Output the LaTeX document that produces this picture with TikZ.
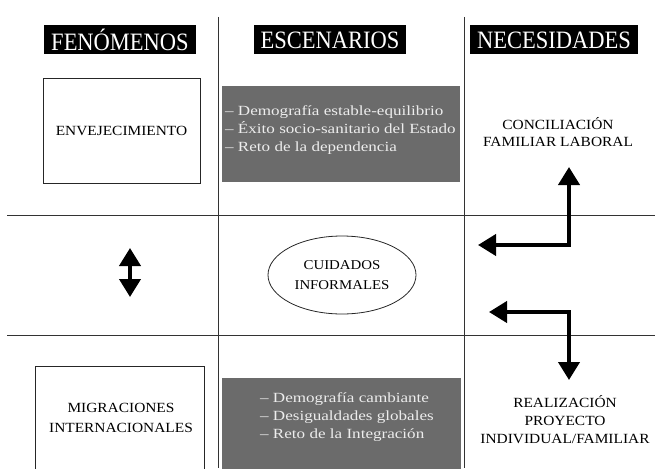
\documentclass[tikz,border=0pt]{standalone}
\usepackage{fontspec}
\setmainfont{Liberation Serif}
\newfontfamily\capsf{Liberation Serif}[FakeStretch=1.1]
\newfontfamily\listf{Liberation Serif}[FakeStretch=1.22]
\newfontfamily\headf{Liberation Serif}[FakeStretch=0.9]
\usetikzlibrary{arrows.meta,shapes.geometric}
\begin{document}
\begin{tikzpicture}[x=1pt,y=-1pt,
  grid/.style={draw=black!80,line width=0.9pt},
  head/.style={fill=black,text=white,font=\headf\fontsize{25}{25}\selectfont,inner xsep=7pt,inner ysep=2pt,minimum height=29pt},
  capstext/.style={font=\capsf\fontsize{14}{18}\selectfont,align=center},
  listtext/.style={font=\listf\fontsize{14}{18}\selectfont,align=left,text=white!93!black,inner sep=0pt},
  graybox/.style={fill=black!58,draw=none,inner sep=0pt},
  framebox/.style={draw=black!85,line width=0.8pt},
  bigarrow/.style={line width=4pt,{Triangle[length=18pt,width=21pt]}-{Triangle[length=18pt,width=21pt]}}
]
\useasboundingbox (0,0) rectangle (655,468);

% header labels
\node[head] (hF) at (120,40) {FENÓMENOS};
\node[head] (hE) at (330,40) {ESCENARIOS};
\node[head] (hN) at (554,40) {NECESIDADES};

% gray scenario boxes
\node[graybox,minimum width=238pt,minimum height=96pt] (g1) at (341,134) {};
\node[graybox,minimum width=239pt,minimum height=92pt] (g2) at (341.5,424) {};

% grid lines
\coordinate (v1t) at (218,17); \coordinate (v1b) at (218,468);
\coordinate (v2t) at (464,17); \coordinate (v2b) at (464,468);
\coordinate (h1l) at (7,215);  \coordinate (h1r) at (655,215);
\coordinate (h2l) at (7,335);  \coordinate (h2r) at (655,335);
\draw[grid] (v1t) -- (v1b);
\draw[grid] (v2t) -- (v2b);
\draw[grid] (h1l) -- (h1r);
\draw[grid] (h2l) -- (h2r);

% phenomena
\node[framebox,capstext,minimum width=157pt,minimum height=105pt] (env) at (121.5,130.5) {ENVEJECIMIENTO};
\coordinate (mbl) at (35,470); \coordinate (mtr) at (204,366); \coordinate (mbr) at (204,470);
\draw[framebox] (mbl) |- (mtr) -- (mbr);
\node[capstext,font=\capsf\fontsize{14}{20}\selectfont] (migr) at (121,418) {MIGRACIONES\\INTERNACIONALES};

% scenarios text
\node[listtext,anchor=west] (l1) at (225,130) {– Demografía estable-equilibrio\\– Éxito socio-sanitario del Estado\\– Reto de la dependencia};
\node[listtext,anchor=west] (l2) at (260,417) {– Demografía cambiante\\– Desigualdades globales\\– Reto de la Integración};

% central ellipse
\node[draw=black!85,line width=0.8pt,ellipse,minimum width=148pt,minimum height=78pt,capstext,font=\capsf\fontsize{13.5}{20}\selectfont] (cuid) at (342,275) {CUIDADOS\\INFORMALES};

% needs
\node[capstext,font=\capsf\fontsize{14}{17}\selectfont] (conc) at (558,132) {CONCILIACIÓN\\FAMILIAR LABORAL};
\node[capstext] (real) at (565,420) {REALIZACIÓN\\PROYECTO\\INDIVIDUAL/FAMILIAR};

% arrows
\coordinate (a1u) at (569,167); \coordinate (a1l) at (478,245);
\draw[bigarrow] (a1u) |- (a1l);
\coordinate (a2l) at (489,312); \coordinate (a2d) at (569,380);
\draw[bigarrow] (a2l) -| (a2d);
\coordinate (a3u) at (130,248); \coordinate (a3d) at (130,297);
\draw[bigarrow] (a3u) -- (a3d);
\end{tikzpicture}
\end{document}
